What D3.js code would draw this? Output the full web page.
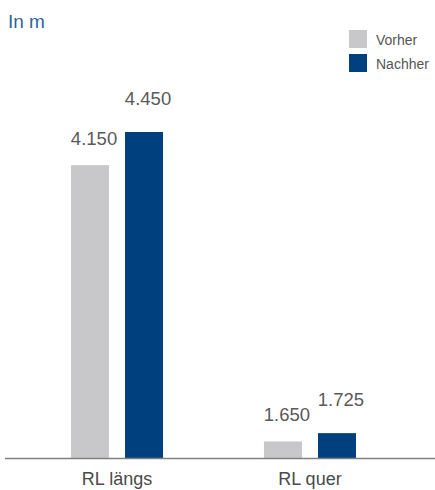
<!DOCTYPE html>
<html>
<head>
<meta charset="utf-8">
<script src="https://cdn.jsdelivr.net/npm/d3@7"></script>
<style>
    html, body { margin: 0; padding: 0; background: #fff; }
    svg { display: block; font-family: "Liberation Sans", Arial, sans-serif; }
</style>
</head>
<body>
<div id="chart"></div>
<script>
const categories = ['RL längs', 'RL quer'];
const seriesNames = ['Vorher', 'Nachher'];
const vorher = [4150, 1650];
const nachher = [4450, 1725];
const valueLabels = [['4.150', '1.650'], ['4.450', '1.725']];

const width = 435;
const height = 490;
const colors = ['#c8c8ca', '#00407e'];
const labelOffset = [20, 27]; // gray labels sit lower than navy ones

const svg = d3.select('#chart')
    .append('svg')
    .attr('width', width)
    .attr('height', height);

// unit label
svg.append('text')
    .attr('x', 8)
    .attr('y', 28)
    .attr('fill', '#31639c')
    .attr('font-size', 19)
    .text('In m');

const x0 = d3.scaleBand()
    .domain(categories)
    .range([20.5, 406.5])
    .paddingInner(0.523)
    .paddingOuter(0.2617);

const x1 = d3.scaleBand()
    .domain(seriesNames)
    .range([0, x0.bandwidth()])
    .paddingInner(0.296);

// the chart's value axis does not start at zero
const y = d3.scaleLinear()
    .domain([1500, 4450])
    .range([458, 132]);

const rows = categories.map((c, i) => ({
    cat: c,
    values: [
        { key: 'Vorher', v: vorher[i], label: valueLabels[0][i], s: 0 },
        { key: 'Nachher', v: nachher[i], label: valueLabels[1][i], s: 1 }
    ]
}));

const groups = svg.selectAll('.group')
    .data(rows)
    .join('g')
    .attr('class', 'group')
    .attr('transform', d => `translate(${x0(d.cat)},0)`);

groups.selectAll('rect')
    .data(d => d.values)
    .join('rect')
    .attr('x', d => x1(d.key))
    .attr('y', d => y(d.v))
    .attr('width', x1.bandwidth())
    .attr('height', d => y.range()[0] - y(d.v))
    .attr('fill', d => colors[d.s]);

groups.selectAll('.val')
    .data(d => d.values)
    .join('text')
    .attr('class', 'val')
    .attr('x', d => x1(d.key) + x1.bandwidth() / 2 + 4)
    .attr('y', d => y(d.v) - labelOffset[d.s])
    .attr('text-anchor', 'middle')
    .attr('font-size', 18.5)
    .attr('fill', '#5a5a5a')
    .text(d => d.label);

// baseline
svg.append('line')
    .attr('x1', 5)
    .attr('x2', width)
    .attr('y1', y.range()[0] + 0.5)
    .attr('y2', y.range()[0] + 0.5)
    .attr('stroke', '#808080')
    .attr('stroke-width', 1.3);

// category labels
svg.selectAll('.cat')
    .data(categories)
    .join('text')
    .attr('class', 'cat')
    .attr('x', d => x0(d) + x0.bandwidth() / 2)
    .attr('y', 485)
    .attr('text-anchor', 'middle')
    .attr('font-size', 18)
    .attr('fill', '#4a4a4a')
    .text(d => d);

// legend
const legend = svg.selectAll('.legend')
    .data(seriesNames)
    .join('g')
    .attr('class', 'legend')
    .attr('transform', (d, i) => `translate(349, ${30 + i * 24})`);

legend.append('rect')
    .attr('width', 18)
    .attr('height', 18)
    .attr('fill', (d, i) => colors[i]);

legend.append('text')
    .attr('x', 27)
    .attr('y', 15)
    .attr('font-size', 14)
    .attr('fill', '#555')
    .text(d => d);
</script>
</body>
</html>
